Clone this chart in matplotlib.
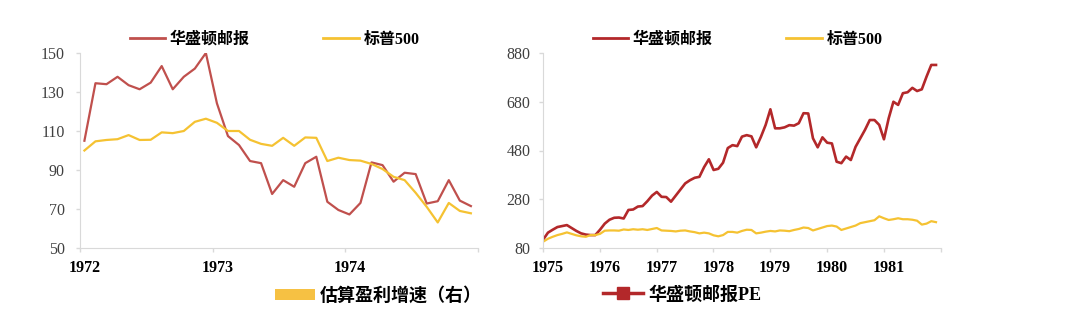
import numpy as np
import matplotlib
matplotlib.use("Agg")
import matplotlib.pyplot as plt
import matplotlib.transforms as mtransforms
from matplotlib.lines import Line2D
from matplotlib.patches import Patch
from matplotlib.font_manager import FontProperties

# left panel, monthly 1972-1974
wapo_72 = [105, 134.5, 134, 137.8, 133.5, 131.4, 134.8, 143.3, 131.4, 137.8, 142, 150,
           124.2, 107.4, 102.8, 94.6, 93.5, 77.7, 84.8, 81.4, 93.5, 96.8, 73.7, 69.5,
           67.2, 73.1, 93.9, 92.5, 84, 88.6, 87.9, 72.8, 74, 84.8, 74.3, 71.5]
sp500_72 = [100, 104.7, 105.4, 105.8, 107.9, 105.4, 105.5, 109.3, 108.9, 110, 114.7, 116.3,
            114.2, 110, 110, 105.5, 103.4, 102.4, 106.5, 102.4, 106.7, 106.5, 94.6, 96.3,
            95.1, 94.8, 93.1, 90.5, 86.5, 84.8, 78.3, 71.1, 63.1, 73.1, 69, 67.8]

# right panel, monthly 1975-1981
wapo_pe = [115, 143, 155, 166, 170, 174, 162, 150, 140, 135, 133, 133,
           155, 180, 196, 204, 205, 201, 236, 238, 250, 252, 272, 295,
           310, 290, 289, 270, 295, 320, 345, 358, 368, 372, 412, 444,
           400, 405, 430, 490, 502, 498, 537, 543, 538, 493, 536, 585,
           649, 571, 571, 575, 584, 582, 592, 633, 632, 530, 493, 534,
           512, 509, 434, 428, 455, 441, 495, 530, 565, 605, 605, 585,
           526, 612, 680, 667, 715, 719, 737, 724, 731, 783, 831, 831]
sp500_75 = [106, 118, 126, 133, 138, 144, 138, 132, 128, 126, 133, 133,
            138, 151, 152, 152, 151, 156, 154, 157, 155, 157, 154, 158,
            162, 152, 151, 150, 148, 151, 152, 148, 145, 140, 143, 140,
            132, 128, 133, 146, 146, 143, 150, 155, 154, 140, 143, 147,
            150, 148, 152, 151, 149, 154, 158, 164, 162, 152, 158, 164,
            170, 172, 168, 154, 160, 166, 172, 182, 186, 190, 194, 210,
            202, 195, 198, 202, 198, 198, 196, 192, 176, 180, 190, 186]

left_years = [1972, 1973, 1974, 1975]
right_years = [1975, 1976, 1977, 1978, 1979, 1980, 1981, 1982]

RED_L = "#C0504D"
RED_R = "#B3282A"
YEL = "#F5C232"
YEL_BAR = "#F6C143"
GRAY = "#D9D9D9"

plt.rcParams["font.family"] = ["Liberation Serif", "Noto Sans CJK SC"]
fams = ["Liberation Serif", "Noto Sans CJK SC"]
fp_top = FontProperties(family=fams, weight="bold", size=11.5)
fp_bot = FontProperties(family=fams, weight="bold", size=13)

fig = plt.figure(figsize=(10.8, 3.21), dpi=100)
ax1 = fig.add_axes([80 / 1080, 1 - 248 / 321, 397.5 / 1080, 195 / 321])
ax2 = fig.add_axes([543 / 1080, 1 - 248 / 321, 397.5 / 1080, 195 / 321])

t1 = 1972 + (np.arange(len(wapo_72)) + 0.4) / 12
t2 = 1975 + (np.arange(len(wapo_pe)) + 0.05) / 12

ax1.plot(t1, wapo_72, color=RED_L, lw=1.6)
ax1.plot(t1, sp500_72, color=YEL, lw=1.6)
ax2.plot(t2, wapo_pe, color=RED_R, lw=1.9)
ax2.plot(t2, sp500_75, color=YEL, lw=1.6)

ax1.set_xlim(1972, 1975)
ax1.set_ylim(50, 150)
ax2.set_xlim(1975, 1982)
ax2.set_ylim(80, 880)

shift = mtransforms.ScaledTranslation(5 / 100, 0, fig.dpi_scale_trans)


def style(ax, years, yticks, ypad):
    for s in ["top", "right"]:
        ax.spines[s].set_visible(False)
    for s in ["left", "bottom"]:
        ax.spines[s].set_color(GRAY)
    ax.set_xticks(years, labels=[str(y) for y in years[:-1]] + [""])
    ax.set_yticks(yticks)
    ax.tick_params(axis="both", color=GRAY, length=3, width=1)
    ax.tick_params(axis="y", labelcolor="#404040", labelsize=11.5, pad=ypad)
    ax.tick_params(axis="x", labelcolor="black", labelsize=11.5, pad=6)
    for lab in ax.get_xticklabels():
        lab.set_fontweight("bold")
        lab.set_transform(lab.get_transform() + shift)


style(ax1, left_years, [50, 70, 90, 110, 130, 150], 8)
style(ax2, right_years, [80, 280, 480, 680, 880], 6)

# legends
common = dict(frameon=False, loc="center left", borderpad=0, borderaxespad=0,
              bbox_transform=fig.transFigure)

fig.legend([Line2D([], [], color=RED_L, lw=2), Line2D([], [], color=YEL, lw=2)],
           ["华盛顿邮报", "标普500"], ncol=2, prop=fp_top, handlelength=2.2,
           handletextpad=0.3, columnspacing=4.6,
           bbox_to_anchor=(130 / 1080, 1 - 40 / 321), **common)
fig.legend([Line2D([], [], color=RED_R, lw=2), Line2D([], [], color=YEL, lw=2)],
           ["华盛顿邮报", "标普500"], ncol=2, prop=fp_top, handlelength=2.2,
           handletextpad=0.3, columnspacing=4.6,
           bbox_to_anchor=(593 / 1080, 1 - 40 / 321), **common)

fig.legend([Patch(facecolor=YEL_BAR, edgecolor="none")], ["估算盈利增速（右）"],
           prop=fp_bot, handlelength=2.2, handleheight=0.55, handletextpad=0.3,
           bbox_to_anchor=(275 / 1080, 1 - 296 / 321), **common)
fig.legend([Line2D([], [], color=RED_R, lw=2.5, marker="s", markersize=8)],
           ["华盛顿邮报PE"], prop=fp_bot, handlelength=2.2, handletextpad=0.3,
           numpoints=1, bbox_to_anchor=(603 / 1080, 1 - 295 / 321), **common)

fig.savefig("out.png", dpi=100)
